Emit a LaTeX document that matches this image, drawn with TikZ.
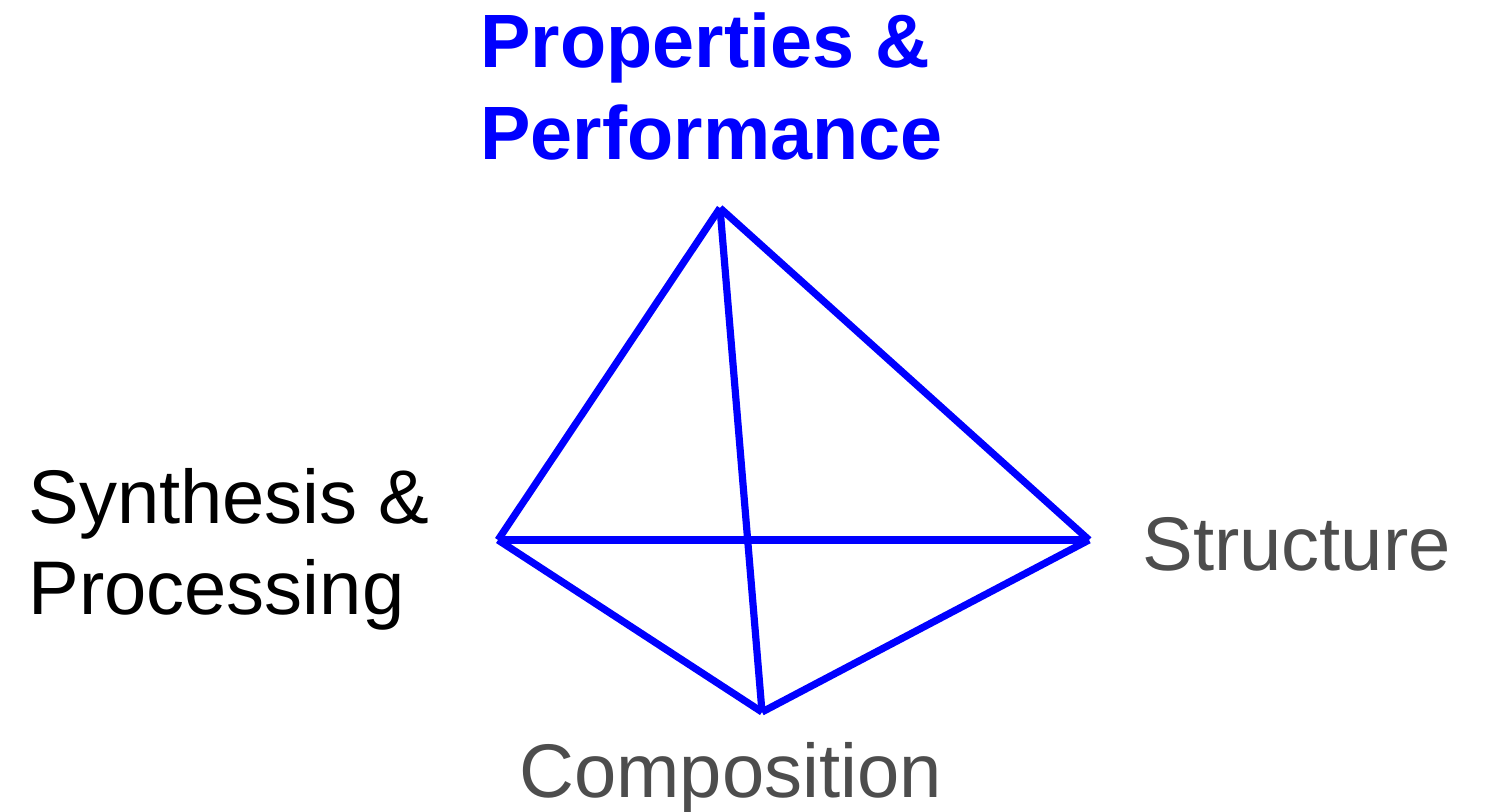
\documentclass[tikz,border=0pt]{standalone}
\usepackage{fontspec}
\setmainfont{Liberation Sans}
\definecolor{pblue}{HTML}{0000FF}
\definecolor{lgray}{HTML}{4D4D4D}
\begin{document}
\begin{tikzpicture}[x=0.5pt,y=-0.5pt,
  edge/.style={draw=pblue,line width=3.6pt},
  lbl/.style={inner sep=0pt,anchor=base west},
  toplbl/.style={lbl,text=pblue,font=\fontsize{37.8}{46}\selectfont\bfseries},
  leftlbl/.style={lbl,text=black,font=\fontsize{38}{46}\selectfont},
  graylbl/.style={lbl,text=lgray,font=\fontsize{38}{46}\selectfont}]
\useasboundingbox (0,0) rectangle (1488,812);
\coordinate (T) at (720,208);
\coordinate (L) at (498,540);
\coordinate (R) at (1089,540);
\coordinate (B) at (762,712);
\draw[edge] (T) -- (L);
\draw[edge] (T) -- (R);
\draw[edge] (T) -- (B);
\draw[edge] (L) -- (R);
\draw[edge] (L) -- (B);
\draw[edge] (R) -- (B);
\node[toplbl] (p1) at (480,68) {Properties \&};
\node[toplbl] (p2) at (480,160) {Performance};
\node[leftlbl] (s1) at (28,523) {Synthesis \&};
\node[leftlbl] (s2) at (28,614) {Processing};
\node[graylbl] (st) at (1142,570) {Structure};
\node[graylbl] (co) at (519,797) {Composition};
\end{tikzpicture}
\end{document}
